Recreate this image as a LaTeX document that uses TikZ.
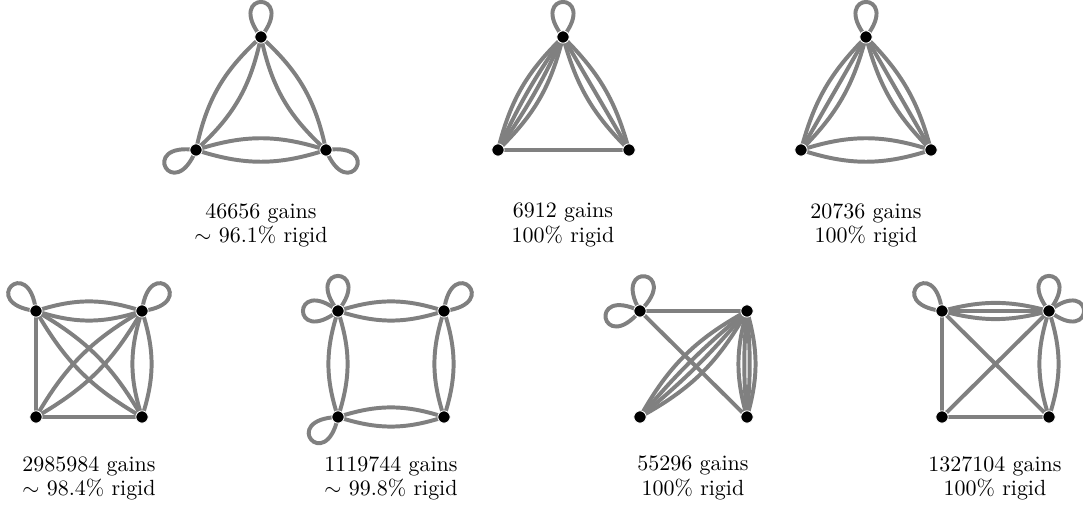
\documentclass[tikz,border=0pt]{standalone}
\pgfdeclarelayer{background}
\pgfsetlayers{background,main}
\tikzset{
  vtx/.style={circle,fill=black,draw=white,line width=0.4pt,inner sep=0pt,minimum size=5.6pt},
  ed/.style={draw=gray,line width=1.8pt},
  lp/.style={to path={.. controls +(#1+38:27pt) and +(#1-38:27pt) .. (\tikztotarget)}},
  lbl/.style={align=center,font=\fontsize{10}{11}\selectfont,inner sep=0pt}
}
\begin{document}
\begin{tikzpicture}[x=0.455pt,y=0.455pt]
\useasboundingbox (0,0) rectangle (1083,-507);
% vertices
\node[vtx] (a1) at (261,-37) {};
\node[vtx] (b1) at (196,-150) {};
\node[vtx] (c1) at (326,-150) {};
\node[vtx] (a2) at (563,-37) {};
\node[vtx] (b2) at (498,-150) {};
\node[vtx] (c2) at (629,-150) {};
\node[vtx] (a3) at (866,-37) {};
\node[vtx] (b3) at (801,-150) {};
\node[vtx] (c3) at (931,-150) {};
\node[vtx] (p4) at (36,-311) {};
\node[vtx] (q4) at (142,-311) {};
\node[vtx] (r4) at (36,-417) {};
\node[vtx] (s4) at (142,-417) {};
\node[vtx] (p5) at (338,-311) {};
\node[vtx] (q5) at (444,-311) {};
\node[vtx] (r5) at (338,-417) {};
\node[vtx] (s5) at (444,-417) {};
\node[vtx] (p6) at (640,-311) {};
\node[vtx] (q6) at (747,-311) {};
\node[vtx] (r6) at (640,-417) {};
\node[vtx] (s6) at (747,-417) {};
\node[vtx] (p7) at (942,-311) {};
\node[vtx] (q7) at (1049,-311) {};
\node[vtx] (r7) at (942,-417) {};
\node[vtx] (s7) at (1049,-417) {};
% labels
\node[lbl] (l1) at (261,-225) {46656 gains\\$\sim$ 96.1\% rigid};
\node[lbl] (l2) at (563,-225) {6912 gains\\100\% rigid};
\node[lbl] (l3) at (866,-225) {20736 gains\\100\% rigid};
\node[lbl] (l4) at (89,-478) {2985984 gains\\$\sim$ 98.4\% rigid};
\node[lbl] (l5) at (391,-478) {1119744 gains\\$\sim$ 99.8\% rigid};
\node[lbl] (l6) at (693,-478) {55296 gains\\100\% rigid};
\node[lbl] (l7) at (995,-478) {1327104 gains\\100\% rigid};
\begin{pgfonlayer}{background}
% graph 1
\draw[ed] (a1.center) to[lp=90] (a1.center);
\draw[ed] (b1.center) to[lp=210] (b1.center);
\draw[ed] (c1.center) to[lp=330] (c1.center);
\foreach \u/\v in {a1/b1,a1/c1,b1/c1}{
  \draw[ed] (\u.center) to[bend left=18] (\v.center);
  \draw[ed] (\u.center) to[bend right=18] (\v.center);
}
% graph 2
\draw[ed] (a2.center) to[lp=90] (a2.center);
\draw[ed] (b2.center) -- (c2.center);
\foreach \b in {5,16,-5,-16}{\draw[ed] (a2.center) to[bend left=\b] (b2.center);}
\foreach \b in {0,15,-15}{\draw[ed] (a2.center) to[bend left=\b] (c2.center);}
% graph 3
\draw[ed] (a3.center) to[lp=90] (a3.center);
\draw[ed] (b3.center) to[bend left=18] (c3.center);
\draw[ed] (b3.center) to[bend right=18] (c3.center);
\foreach \b in {0,15,-15}{
  \draw[ed] (a3.center) to[bend left=\b] (b3.center);
  \draw[ed] (a3.center) to[bend left=\b] (c3.center);
}
% graph 4
\draw[ed] (p4.center) to[lp=135] (p4.center);
\draw[ed] (q4.center) to[lp=45] (q4.center);
\draw[ed] (p4.center) -- (r4.center);
\draw[ed] (r4.center) -- (s4.center);
\foreach \b in {18,-18}{
  \draw[ed] (p4.center) to[bend left=\b] (q4.center);
  \draw[ed] (q4.center) to[bend left=\b] (s4.center);
}
\foreach \b in {15,-15}{
  \draw[ed] (p4.center) to[bend left=\b] (s4.center);
  \draw[ed] (q4.center) to[bend left=\b] (r4.center);
}
% graph 5
\draw[ed] (p5.center) to[lp=90] (p5.center);
\draw[ed] (p5.center) to[lp=180] (p5.center);
\draw[ed] (q5.center) to[lp=45] (q5.center);
\draw[ed] (r5.center) to[lp=220] (r5.center);
\foreach \b in {18,-18}{
  \draw[ed] (p5.center) to[bend left=\b] (q5.center);
  \draw[ed] (q5.center) to[bend left=\b] (s5.center);
  \draw[ed] (r5.center) to[bend left=\b] (s5.center);
  \draw[ed] (p5.center) to[bend left=\b] (r5.center);
}
% graph 6
\draw[ed] (p6.center) to[lp=82] (p6.center);
\draw[ed] (p6.center) to[lp=192] (p6.center);
\draw[ed] (p6.center) -- (q6.center);
\draw[ed] (p6.center) -- (s6.center);
\foreach \b in {5,16,-5,-16}{
  \draw[ed] (q6.center) to[bend left=\b] (r6.center);
  \draw[ed] (q6.center) to[bend left=\b] (s6.center);
}
% graph 7
\draw[ed] (p7.center) to[lp=135] (p7.center);
\draw[ed] (q7.center) to[lp=90] (q7.center);
\draw[ed] (q7.center) to[lp=0] (q7.center);
\draw[ed] (p7.center) -- (r7.center);
\draw[ed] (r7.center) -- (s7.center);
\draw[ed] (p7.center) -- (s7.center);
\draw[ed] (q7.center) -- (r7.center);
\foreach \b in {0,15,-15}{\draw[ed] (p7.center) to[bend left=\b] (q7.center);}
\foreach \b in {18,-18}{\draw[ed] (q7.center) to[bend left=\b] (s7.center);}
\end{pgfonlayer}
\end{tikzpicture}
\end{document}
